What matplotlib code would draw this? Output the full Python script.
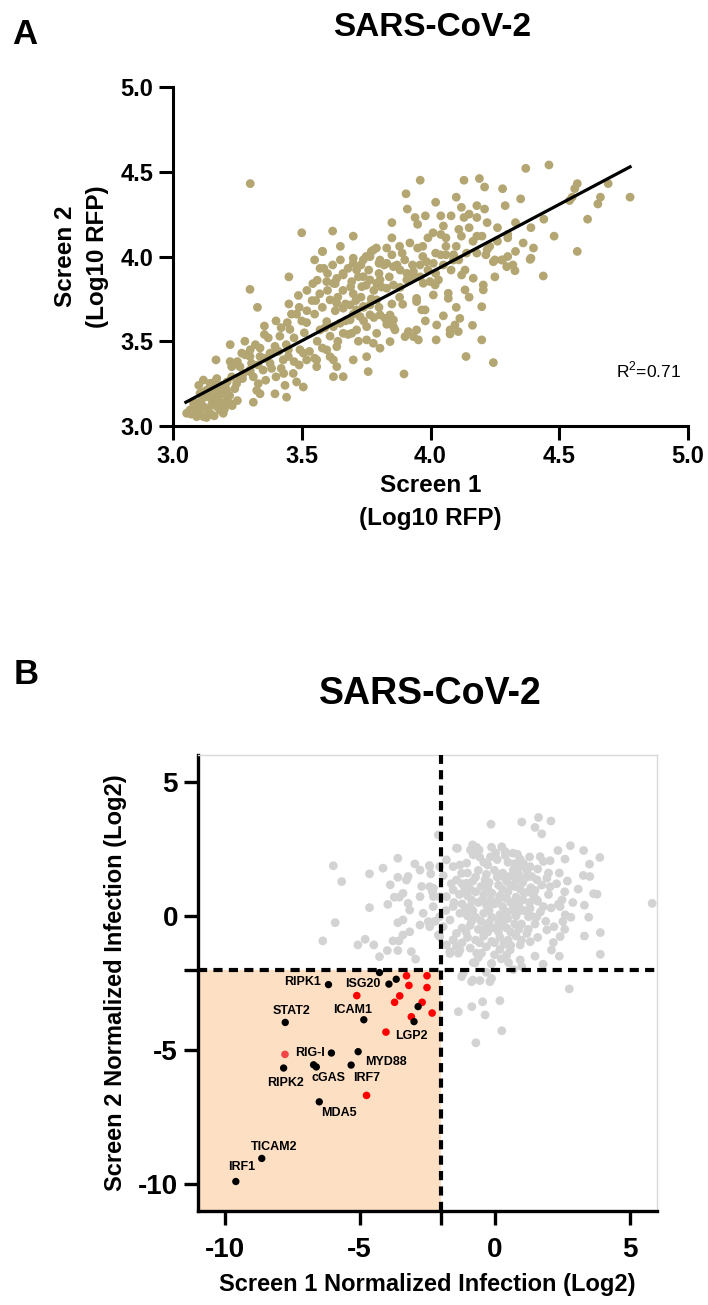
import numpy as np
import matplotlib
matplotlib.use("Agg")
import matplotlib.pyplot as plt
from matplotlib.patches import Rectangle

plt.rcParams['font.family'] = ['Liberation Sans', 'DejaVu Sans']
plt.rcParams['mathtext.fontset'] = 'custom'
plt.rcParams['mathtext.rm'] = 'Liberation Sans'
plt.rcParams['axes.unicode_minus'] = False

# ====================== PANEL A DATA (Log10 RFP) ======================
a_pts = [
    # upper left / upper band
    (3.30, 4.43), (3.96, 4.45), (3.905, 4.37), (3.91, 4.28), (3.94, 4.23), (3.95, 4.19),
    (3.50, 4.14), (3.62, 4.15), (3.58, 4.03), (3.85, 4.11), (3.79, 4.05), (3.77, 4.03),
    (3.75, 4.00), (3.83, 4.05), (3.89, 4.02), (3.95, 4.05), (3.97, 4.06), (3.97, 4.00),
    (3.99, 4.11), (3.85, 4.01), (3.70, 3.99),
    # upper right
    (4.37, 4.52), (4.46, 4.54), (4.13, 4.45), (4.19, 4.46), (4.21, 4.41), (4.35, 4.34),
    (4.29, 4.30), (4.12, 4.29), (4.18, 4.30), (4.21, 4.28), (4.15, 4.25), (4.13, 4.23),
    (4.18, 4.23), (4.22, 4.20), (4.26, 4.17), (4.08, 4.24), (4.04, 4.24), (4.15, 4.17),
    (4.11, 4.16), (4.12, 4.12), (4.04, 4.13), (4.06, 4.11), (4.01, 4.14), (4.165, 4.09),
    (4.18, 4.12), (4.20, 4.12), (4.23, 4.06), (4.26, 4.09), (4.30, 4.13), (4.30, 4.11),
    (4.33, 4.20), (4.39, 4.17), (4.44, 4.22), (4.22, 4.04), (4.18, 4.02), (4.215, 4.01),
    (4.25, 3.98), (4.28, 3.98), (4.30, 4.00), (4.33, 4.03), (4.39, 3.99), (4.54, 4.33),
    (4.55, 4.35), (4.56, 4.40), (4.57, 4.43), (4.66, 4.35), (4.65, 4.31), (4.69, 4.43),
    (4.61, 4.22), (4.57, 4.03), (4.775, 4.35), (4.02, 4.02), (4.04, 4.01), (4.06, 4.01),
    (4.09, 4.01),
    # right middle
    (3.804, 3.979), (3.830, 3.960), (3.856, 3.940), (3.882, 3.920), (3.908, 3.901),
    (3.934, 3.910), (3.959, 3.950), (3.985, 3.969), (4.011, 3.960), (4.089, 3.979),
    (4.276, 3.979), (4.296, 3.940), (4.328, 3.916), (4.387, 3.983), (4.438, 3.885),
    (4.244, 3.969), (3.804, 3.862), (3.830, 3.813), (3.856, 3.832), (3.882, 3.818),
    (3.908, 3.862), (3.934, 3.881), (3.972, 3.842), (3.998, 3.852), (4.018, 3.832),
    (4.031, 3.862), (4.011, 3.773), (3.966, 3.685), (3.979, 3.685), (3.946, 3.753),
    (3.946, 3.734), (4.069, 3.783), (4.069, 3.753), (4.134, 3.803), (4.134, 3.920),
    (4.121, 3.891), (4.166, 3.872), (4.205, 3.832), (4.205, 3.803), (4.199, 3.704),
    (3.892, 3.718), (3.804, 3.655), (3.824, 3.635), (3.843, 3.655), (3.856, 3.626),
    (3.856, 3.586), (3.862, 3.567), (3.843, 3.498), (3.804, 3.459), (3.901, 3.527),
    (3.914, 3.557), (3.934, 3.527), (3.953, 3.508), (3.946, 3.567), (4.024, 3.596),
    (4.022, 3.508), (4.076, 3.567), (4.076, 3.543), (4.095, 3.596), (4.108, 3.557),
    (4.114, 3.635), (4.163, 3.594), (4.199, 3.508), (4.138, 3.410), (4.244, 3.374),
    (3.897, 3.307),
    # left middle
    (3.299, 3.806), (3.328, 3.70), (3.581, 4.03), (3.571, 3.93), (3.586, 3.93), (3.543, 3.84),
    (3.487, 3.77), (3.48, 3.66), (3.49, 3.70), (3.554, 3.74), (3.444, 3.61), (3.519, 3.61),
    (3.415, 3.53), (3.454, 3.57), (3.355, 3.54), (3.355, 3.59), (3.279, 3.50), (3.222, 3.48),
    (3.167, 3.39), (3.222, 3.38), (3.228, 3.35), (3.267, 3.43), (3.299, 3.41), (3.305, 3.37),
    (3.338, 3.41), (3.338, 3.46), (3.377, 3.43), (3.396, 3.47), (3.40, 3.45), (3.428, 3.39),
    (3.448, 3.41), (3.448, 3.45), (3.493, 3.45), (3.506, 3.43), (3.519, 3.39), (3.558, 3.39),
    (3.558, 3.35), (3.26, 3.35), (3.273, 3.31), (3.299, 3.33), (3.228, 3.29), (3.26, 3.28),
    (3.247, 3.25), (3.312, 3.29), (3.331, 3.25), (3.325, 3.21), (3.338, 3.19), (3.312, 3.14),
    (3.377, 3.37), (3.40, 3.29), (3.435, 3.24), (3.441, 3.17), (3.396, 3.19), (3.467, 3.31),
    (3.48, 3.26), (3.506, 3.23), (3.383, 3.34),
    # dense low cluster
    (3.118, 3.271), (3.144, 3.252), (3.170, 3.232), (3.183, 3.212), (3.195, 3.193),
    (3.208, 3.173), (3.131, 3.173), (3.157, 3.154), (3.105, 3.134), (3.066, 3.094),
    (3.053, 3.075), (3.085, 3.104), (3.118, 3.055), (3.144, 3.075), (3.170, 3.114),
    (3.195, 3.134), (3.183, 3.094), (3.105, 3.193), (3.131, 3.212), (3.157, 3.193),
    (3.202, 3.232), (3.195, 3.075), (3.221, 3.134), (3.092, 3.055), (3.079, 3.144),
    (3.118, 3.114), (3.176, 3.173), (3.150, 3.124), (3.208, 3.212), (3.163, 3.261),
    (3.10, 3.08), (3.13, 3.10), (3.15, 3.16), (3.12, 3.20), (3.19, 3.24), (3.21, 3.26),
    (3.17, 3.28), (3.14, 3.22), (3.11, 3.15), (3.08, 3.12), (3.16, 3.06), (3.22, 3.18),
    (3.24, 3.22), (3.07, 3.07), (3.20, 3.10), (3.13, 3.05), (3.10, 3.24), (3.25, 3.15),
    (3.18, 3.14), (3.23, 3.12),
    # centre band
    (3.597, 3.852), (3.623, 3.842), (3.636, 3.871), (3.661, 3.891), (3.694, 3.852),
    (3.713, 3.921), (3.70, 3.96), (3.739, 3.98), (3.765, 3.999), (3.778, 4.038),
    (3.791, 3.842), (3.765, 3.862), (3.739, 3.881), (3.733, 3.822), (3.610, 3.744),
    (3.636, 3.724), (3.661, 3.695), (3.688, 3.714), (3.713, 3.685), (3.739, 3.705),
    (3.765, 3.714), (3.791, 3.744), (3.765, 3.656), (3.726, 3.646), (3.688, 3.626),
    (3.649, 3.606), (3.623, 3.586), (3.597, 3.616), (3.571, 3.567), (3.661, 3.547),
    (3.713, 3.567), (3.752, 3.586), (3.791, 3.547), (3.778, 3.488), (3.752, 3.508),
    (3.636, 3.468), (3.597, 3.449), (3.610, 3.409), (3.623, 3.39), (3.636, 3.35),
    (3.661, 3.291), (3.623, 3.291), (3.70, 3.39), (3.752, 3.409), (3.758, 3.321),
    (3.694, 3.547),
    (3.62, 3.95), (3.65, 3.98), (3.68, 3.93), (3.72, 3.88), (3.75, 3.83), (3.78, 3.80),
    (3.70, 3.78), (3.66, 3.80), (3.64, 3.76), (3.60, 3.80), (3.73, 3.76), (3.76, 3.92),
    (3.80, 3.90), (3.82, 3.95), (3.58, 3.70), (3.55, 3.66), (3.52, 3.68), (3.50, 3.62),
    (3.46, 3.66), (3.42, 3.58), (3.40, 3.62), (3.37, 3.52), (3.32, 3.48), (3.30, 3.45),
    (3.28, 3.42), (3.25, 3.38), (3.35, 3.33), (3.43, 3.31), (3.47, 3.38), (3.53, 3.44),
    (3.56, 3.50), (3.61, 3.53), (3.59, 3.58), (3.67, 3.62), (3.70, 3.66), (3.74, 3.62),
    (3.78, 3.64), (3.80, 3.70),
    (3.45, 3.72), (3.52, 3.80), (3.56, 3.86), (3.60, 3.90), (3.63, 3.68), (3.67, 3.72),
    (3.71, 3.74), (3.69, 3.82), (3.74, 3.70), (3.77, 3.75), (3.81, 3.82), (3.84, 3.88),
    (3.87, 3.95), (3.90, 3.98), (3.93, 3.95), (3.96, 3.88), (3.99, 3.92), (4.02, 3.90),
    (4.05, 3.95), (4.08, 3.92), (4.11, 3.98), (4.14, 4.02), (4.10, 4.06), (4.06, 4.06),
    (3.92, 4.08), (3.88, 4.06), (3.80, 3.96), (3.73, 3.95), (3.66, 3.90), (3.63, 3.84),
    (3.57, 3.78), (3.54, 3.74), (3.51, 3.55), (3.47, 3.52), (3.44, 3.48), (3.41, 3.44),
    (3.36, 3.40), (3.33, 3.36), (3.30, 3.32), (3.27, 3.28), (3.36, 3.27), (3.42, 3.34),
    (3.49, 3.36), (3.55, 3.40), (3.58, 3.46), (3.64, 3.50), (3.68, 3.54), (3.72, 3.50),
    (3.85, 3.72), (3.88, 3.76), (3.83, 3.60), (3.98, 3.62), (4.05, 3.65), (4.10, 3.70),
    (4.15, 3.76), (4.25, 3.88), (4.32, 3.95), (4.40, 4.05), (4.48, 4.12), (4.36, 4.08),
    (4.05, 4.18), (4.10, 4.35), (4.02, 4.32), (3.98, 4.24), (4.28, 4.40), (3.85, 4.20),
    (3.70, 4.12), (3.65, 4.06), (3.55, 3.98), (3.45, 3.88),
]
a_x = [p[0] for p in a_pts]
a_y = [p[1] for p in a_pts]

# linear fit shown on the figure
fit_slope = 0.805
fit_intercept = 0.685
fit_range = [3.05, 4.775]
r2_text = "R$^2$=0.71"

# ====================== PANEL B DATA (Log2 normalized infection) ======================
grey_pts = [
    (-0.13, 3.42), (1.01, 3.50), (1.63, 3.67), (2.09, 3.54), (1.50, 3.30), (1.75, 3.06),
    (-0.81, 2.65), (-0.66, 2.56), (-0.89, 2.46), (-0.57, 2.46), (-0.79, 2.28), (-1.37, 2.52),
    (-0.11, 2.56), (0.27, 2.58), (0.40, 2.40), (0.68, 2.34), (0.95, 2.12), (1.07, 1.96),
    (1.69, 2.21), (1.81, 2.03), (2.06, 2.06), (2.35, 2.44), (2.81, 2.62), (3.30, 2.44),
    (3.90, 2.18), (3.52, 1.93), (2.61, 2.12), (3.29, 1.51), (3.53, 1.47), (3.67, 0.83),
    (3.80, 0.81), (3.33, 0.40), (5.84, 0.47), (2.37, 0.44), (2.43, 0.35), (2.62, 0.04),
    (2.83, -0.05), (2.53, -0.21), (3.49, -0.05), (3.92, -0.62), (3.33, -0.75), (2.43, -0.77),
    (2.18, -0.99), (2.11, -1.27), (3.92, -1.43), (1.94, -0.52), (1.57, -0.03), (1.32, 1.84),
    (0.95, 1.84), (0.70, 1.72), (1.38, 1.47), (1.57, 1.35), (1.94, 1.41), (2.06, 1.09),
    (1.57, 0.60), (1.81, 0.35), (1.32, 0.29), (1.26, -0.03), (1.20, -0.65), (1.32, -0.96),
    (0.95, -1.08), (0.58, -1.27), (0.45, -1.46), (-0.11, -1.77), (-0.79, -1.74), (0.95, -1.64),
    (-0.48, -1.39), (-0.66, -1.39), (-1.34, -1.39), (-1.65, -1.33), (-1.41, -1.14),
    (-1.78, -1.08), (-1.53, -0.89), (-2.03, -0.77), (-2.40, -0.40), (-2.03, -0.03),
    (-2.27, 0.35), (-2.03, 0.72), (-2.40, 1.09), (-2.03, 1.84), (-2.40, 1.84), (-1.78, 2.09),
    # below the horizontal cut-off
    (-1.16, -2.14), (-1.22, -2.26), (-0.85, -2.45), (-0.54, -2.41), (-0.17, -2.45),
    (-0.11, -2.33), (-0.11, -1.79), (0.52, -1.74), (1.01, -1.89), (2.77, -2.72),
    (-1.34, -3.57), (-0.84, -3.38), (-0.44, -3.20), (-0.35, -3.69), (0.20, -3.16),
    (0.27, -4.28), (-0.69, -4.73), (-0.72, -1.75), (-0.80, -2.39),
    # left of the vertical cut-off
    (-5.97, 1.87), (-5.66, 1.28), (-5.90, -0.25), (-6.36, -0.93), (-4.63, 1.57), (-4.63, 0.31),
    (-4.13, 1.78), (-3.58, 2.15), (-3.86, 1.16), (-3.58, 1.44), (-3.20, 1.47), (-3.26, 1.34),
    (-2.95, 1.94), (-2.76, 1.71), (-2.41, 1.88), (-2.36, 1.57), (-2.70, 1.10), (-2.26, 1.03),
    (-3.52, 0.70), (-3.71, 0.70), (-3.39, 0.84), (-3.20, 0.47), (-3.14, 0.22), (-3.39, -0.15),
    (-3.58, -0.25), (-3.14, -0.59), (-3.39, -0.71), (-3.76, -0.93), (-3.54, -0.93),
    (-3.95, 0.43), (-2.76, 0.72), (-2.64, 0.10), (-2.45, -0.21), (-2.76, -0.34), (-2.26, 0.72),
    (-2.08, -0.71), (-5.06, -1.08), (-4.79, -0.87), (-4.47, -1.08), (-4.26, -1.52),
    (-3.97, -1.29), (-3.58, -1.29), (-3.08, -1.33), (-2.92, -1.61), (-2.08, 3.02),
    (-1.41, 2.53), (-1.53, 1.84), (-1.28, 1.90), (-1.03, 1.97), (-1.22, 1.59), (-1.41, 1.34),
    (-1.03, 1.22), (-1.53, 0.97), (-1.78, 0.72), (-1.53, 0.35), (-1.28, 0.10), (-1.65, -0.15),
    (-1.90, -0.40), (-1.41, -0.65), (-1.53, -0.90), (-1.28, -1.27), (-1.65, -1.40),
    # dense core
    (-0.4, 2.0), (0.1, 2.1), (0.5, 2.0), (1.3, 2.2),
    (-1.0, 1.6), (-0.6, 1.7), (-0.3, 1.55), (0.0, 1.7), (0.3, 1.6), (0.6, 1.5), (0.9, 1.55),
    (1.2, 1.7),
    (-1.2, 1.2), (-0.8, 1.3), (-0.5, 1.1), (-0.2, 1.25), (0.15, 1.15), (0.45, 1.3),
    (0.75, 1.1), (1.05, 1.25), (1.35, 1.05), (1.75, 1.15), (2.3, 1.2),
    (-1.3, 0.8), (-1.0, 0.75), (-0.7, 0.9), (-0.4, 0.8), (-0.1, 0.85), (0.2, 0.75), (0.5, 0.9),
    (0.8, 0.7), (1.1, 0.85), (1.45, 0.75), (2.0, 0.8), (2.6, 0.9),
    (-1.2, 0.45), (-0.9, 0.35), (-0.6, 0.5), (-0.3, 0.4), (0.0, 0.45), (0.3, 0.35), (0.6, 0.5),
    (0.9, 0.4), (1.1, 0.2), (1.7, 0.15), (2.1, 0.3),
    (-1.0, 0.0), (-0.7, -0.05), (-0.4, 0.1), (-0.1, -0.05), (0.2, 0.05), (0.5, -0.1),
    (0.8, 0.0), (1.0, -0.3), (1.5, -0.3), (2.2, -0.4),
    (-1.2, -0.45), (-0.9, -0.35), (-0.6, -0.5), (-0.3, -0.4), (0.0, -0.45), (0.3, -0.35),
    (0.6, -0.6), (0.9, -0.5), (1.6, -0.8),
    (-1.0, -0.8), (-0.7, -0.9), (-0.4, -0.75), (-0.1, -0.95), (0.2, -0.8), (0.5, -0.9),
    (0.8, -0.75),
    (-0.9, -1.2), (-0.3, -1.15), (0.2, -1.25), (0.6, -1.1),
    (-0.25, 1.9), (0.75, 1.95), (0.4, 2.25), (-0.55, 2.2), (1.0, 1.4), (-0.9, 1.0),
    (0.35, -0.15), (-0.5, -0.2), (0.65, 0.2), (-0.15, 0.6), (1.3, 0.5), (0.1, 1.45),
    (1.5, 0.95), (-1.5, 0.5), (-1.6, 1.2), (-1.8, 0.2), (-2.2, -0.2), (-1.9, 1.5),
    (-2.3, 0.9), (2.4, 1.6), (2.7, 1.3), (2.9, 0.5), (3.1, 1.0), (0.25, -1.6), (-0.3, -2.1),
    (0.7, -2.0), (1.5, -1.5), (1.8, -1.8), (2.4, -1.5),
    (-0.7, 1.45), (-0.35, 1.35), (0.35, 1.45), (0.8, 1.35), (1.2, 1.45), (-1.1, 1.0),
    (-0.25, 1.05), (0.3, 1.0), (0.6, 1.15), (0.95, 1.0), (1.25, 0.9), (1.6, 0.55),
    (-0.85, 0.6), (-0.45, 0.6), (0.15, 0.6), (0.45, 0.65), (0.75, 0.5), (1.05, 0.6),
    (-1.1, 0.2), (-0.8, 0.2), (-0.2, 0.2), (0.45, 0.15), (0.95, 0.2), (1.35, 0.0),
    (-0.85, -0.2), (-0.2, -0.25), (0.15, -0.2), (0.75, -0.3), (1.25, -0.5), (-1.05, -0.6),
    (-0.45, -0.55), (0.15, -0.6), (0.45, -0.45), (-0.25, -0.6), (-0.55, -1.0), (0.0, -1.0),
    (0.35, -1.05), (1.0, -0.9), (-1.2, -1.0), (0.05, 2.35), (0.85, 2.3), (-0.15, 2.2),
    (1.6, 1.75), (2.0, 1.6), (2.5, 0.6), (1.9, -0.2), (2.6, -0.5), (-0.6, -1.55), (0.0, -1.45),
]
grey_x = [p[0] for p in grey_pts]
grey_y = [p[1] for p in grey_pts]

red_x = [-3.26, -2.50, -3.17, -2.50, -5.10, -3.51, -3.70, -2.68, -2.31, -3.08, -4.02, -4.74]
red_y = [-2.23, -2.23, -2.59, -2.67, -2.97, -2.98, -3.22, -3.22, -3.62, -3.76, -4.33, -6.69]
red_soft_x = [-7.76]
red_soft_y = [-5.16]

black_x = [-4.26, -6.15, -3.91, -3.64, -2.83, -2.98, -4.84, -7.75, -6.04, -5.05, -5.31,
           -7.81, -6.70, -6.60, -6.49, -8.62, -9.58]
black_y = [-2.11, -2.56, -2.54, -2.36, -3.38, -3.94, -3.87, -3.97, -5.11, -5.06, -5.56,
           -5.67, -5.55, -5.63, -6.93, -9.04, -9.90]

gene_names = ['RIPK1', 'ISG20', 'STAT2', 'ICAM1', 'LGP2', 'RIG-I', 'MYD88', 'RIPK2',
              'cGAS', 'IRF7', 'MDA5', 'TICAM2', 'IRF1']
# label anchor (centre of text) in data coordinates
gene_label_pos = [(-7.12, -2.47), (-4.88, -2.55), (-7.50, -3.54), (-5.27, -3.51),
                  (-3.08, -4.48), (-6.83, -5.12), (-4.03, -5.44), (-7.73, -6.24),
                  (-6.13, -6.06), (-4.75, -6.06), (-5.77, -7.36), (-8.16, -8.61),
                  (-9.36, -9.35)]

cutoff = -2
b_lim = (-11, 6)
b_ticks = [-10, -5, 0, 5]

# ====================== FIGURE ======================
W, H = 708, 1305
fig = plt.figure(figsize=(W / 100, H / 100), dpi=100)

def px_axes(l, r, t, b):
    return [l / W, 1 - b / H, (r - l) / W, (b - t) / H]

# ---------- Panel A ----------
axA = fig.add_axes(px_axes(173, 688, 87, 426))
axA.scatter(a_x, a_y, s=40, color='#b3a672', edgecolors='none', zorder=2)
fx = np.array(fit_range)
axA.plot(fx, fit_slope * fx + fit_intercept, color='black', lw=2.3, zorder=3)
axA.text(4.72, 3.33, r2_text, fontsize=12.5, va='center', ha='left')
axA.set_xlim(3, 5)
axA.set_ylim(3, 5)
ticksA = [3.0, 3.5, 4.0, 4.5, 5.0]
axA.set_xticks(ticksA)
axA.set_yticks(ticksA)
axA.set_xticklabels([f'{t:.1f}' for t in ticksA], fontsize=17, fontweight='bold')
axA.set_yticklabels([f'{t:.1f}' for t in ticksA], fontsize=17, fontweight='bold')
for s in ['top', 'right']:
    axA.spines[s].set_visible(False)
for s in ['left', 'bottom']:
    axA.spines[s].set_linewidth(2.2)
axA.tick_params(direction='out', length=10, width=2.2, pad=4)
axA.set_xlabel('Screen 1\n(Log10 RFP)', fontsize=17.5, fontweight='bold', labelpad=4,
               linespacing=1.55)
axA.set_ylabel('Screen 2\n(Log10 RFP)', fontsize=17.5, fontweight='bold', labelpad=8,
               linespacing=1.55)

fig.text(12 / W, 1 - 35 / H, 'A', fontsize=25, fontweight='bold', va='center', ha='left')
fig.text(432 / W, 1 - 28 / H, 'SARS-CoV-2', fontsize=24, fontweight='bold',
         va='center', ha='center')

# ---------- Panel B ----------
axB = fig.add_axes(px_axes(197.5, 656.5, 755, 1211))
axB.add_patch(Rectangle((b_lim[0], b_lim[0]), cutoff - b_lim[0], cutoff - b_lim[0],
                        facecolor='#fde0c4', edgecolor='none', zorder=0))
axB.scatter(grey_x, grey_y, s=40, color='#d3d3d3', edgecolors='none', zorder=2)
axB.axvline(cutoff, color='black', lw=3, dashes=(2.2, 1.5), zorder=3)
axB.axhline(cutoff, color='black', lw=3, dashes=(2.2, 1.5), zorder=3)
axB.scatter(red_x, red_y, s=30, color='#ff0000', edgecolors='none', zorder=4)
axB.scatter(red_soft_x, red_soft_y, s=30, color='#f24545', edgecolors='none', zorder=4)
axB.scatter(black_x, black_y, s=28, color='black', edgecolors='none', zorder=5)
for name, (lx, ly) in zip(gene_names, gene_label_pos):
    axB.text(lx, ly, name, fontsize=9, fontweight='bold', ha='center', va='center', zorder=6)

axB.set_xlim(*b_lim)
axB.set_ylim(*b_lim)
axB.set_xticks(b_ticks + [cutoff])
axB.set_yticks(b_ticks + [cutoff])
axB.set_xticklabels([str(t) for t in b_ticks] + [''], fontsize=20, fontweight='bold')
axB.set_yticklabels([str(t) for t in b_ticks] + [''], fontsize=20, fontweight='bold')
for s in ['top', 'right']:
    axB.spines[s].set_linewidth(1)
    axB.spines[s].set_color('#d9d9d9')
for s in ['left', 'bottom']:
    axB.spines[s].set_linewidth(2.4)
axB.tick_params(direction='out', length=10, width=2.4, pad=4)
axB.tick_params(axis='x', pad=9)
axB.tick_params(top=False, right=False)
axB.set_xlabel('Screen 1 Normalized Infection (Log2)', fontsize=17, fontweight='bold',
               labelpad=7)
axB.set_ylabel('Screen 2 Normalized Infection (Log2)', fontsize=17, fontweight='bold',
               labelpad=8)

fig.text(14 / W, 1 - 675 / H, 'B', fontsize=25, fontweight='bold', va='center', ha='left')
fig.text(430 / W, 1 - 694 / H, 'SARS-CoV-2', fontsize=27, fontweight='bold',
         va='center', ha='center')

fig.savefig('out.png', dpi=100)
